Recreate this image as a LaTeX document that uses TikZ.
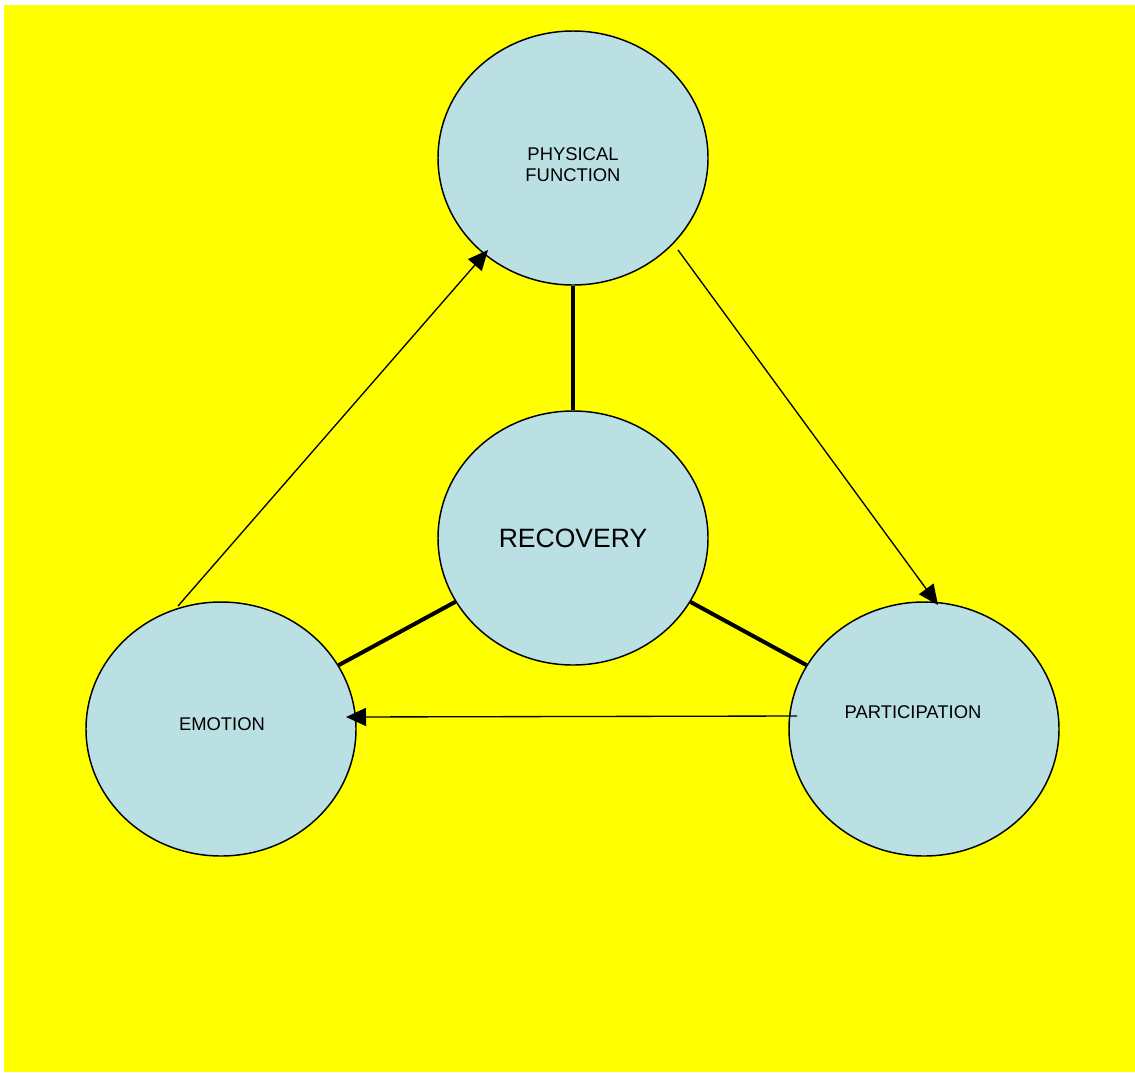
\documentclass[tikz,border=0pt]{standalone}
\usepackage{fontspec}
\setmainfont{Liberation Sans}
\usetikzlibrary{shapes.geometric,arrows.meta}
\definecolor{bub}{RGB}{186,224,227}
\definecolor{bg}{RGB}{255,255,0}
\tikzset{
  bubble/.style={ellipse,draw=black,line width=1.1pt,fill=bub,minimum width=202.5pt,minimum height=190.5pt,inner sep=0pt},
  lbl/.style={font=\fontsize{13.8pt}{15.8pt}\selectfont,align=center,inner sep=0pt},
  biglbl/.style={font=\fontsize{19.9pt}{22pt}\selectfont,align=center,inner sep=0pt},
  thickline/.style={line width=3pt},
  flow/.style={line width=1pt,-{Triangle[length=15pt,width=13.5pt]}}
}
\begin{document}
\begin{tikzpicture}[x=0.75pt,y=-0.75pt]
\useasboundingbox (0,0) rectangle (1135,1072);
\fill[white] (0,0) rectangle (1135,1072);
\fill[bg] (4,5) rectangle (1135,1072);
\node[bubble] (phys) at (573,158) {};
\node[bubble] (rec) at (573,538) {};
\node[bubble] (emo) at (221,729) {};
\node[bubble] (part) at (924,729) {};
\node[lbl] (tphys) at (573,165) {PHYSICAL\\FUNCTION};
\node[biglbl] (trec) at (573,538) {RECOVERY};
\node[lbl] (temo) at (222,724) {EMOTION};
\node[lbl] (tpart) at (913,712) {PARTICIPATION};
\draw[thickline] (phys.south) -- (rec.north);
\draw[thickline] (rec) -- (emo);
\draw[thickline] (rec) -- (part);
\coordinate (e1) at (178,606);
\coordinate (p1) at (488,250);
\coordinate (p2) at (678,250);
\coordinate (q1) at (938,605);
\coordinate (q2) at (797,716);
\coordinate (e2) at (346,717);
\draw[flow] (e1) -- (p1);
\draw[flow] (p2) -- (q1);
\draw[flow] (q2) -- (e2);
\end{tikzpicture}
\end{document}
